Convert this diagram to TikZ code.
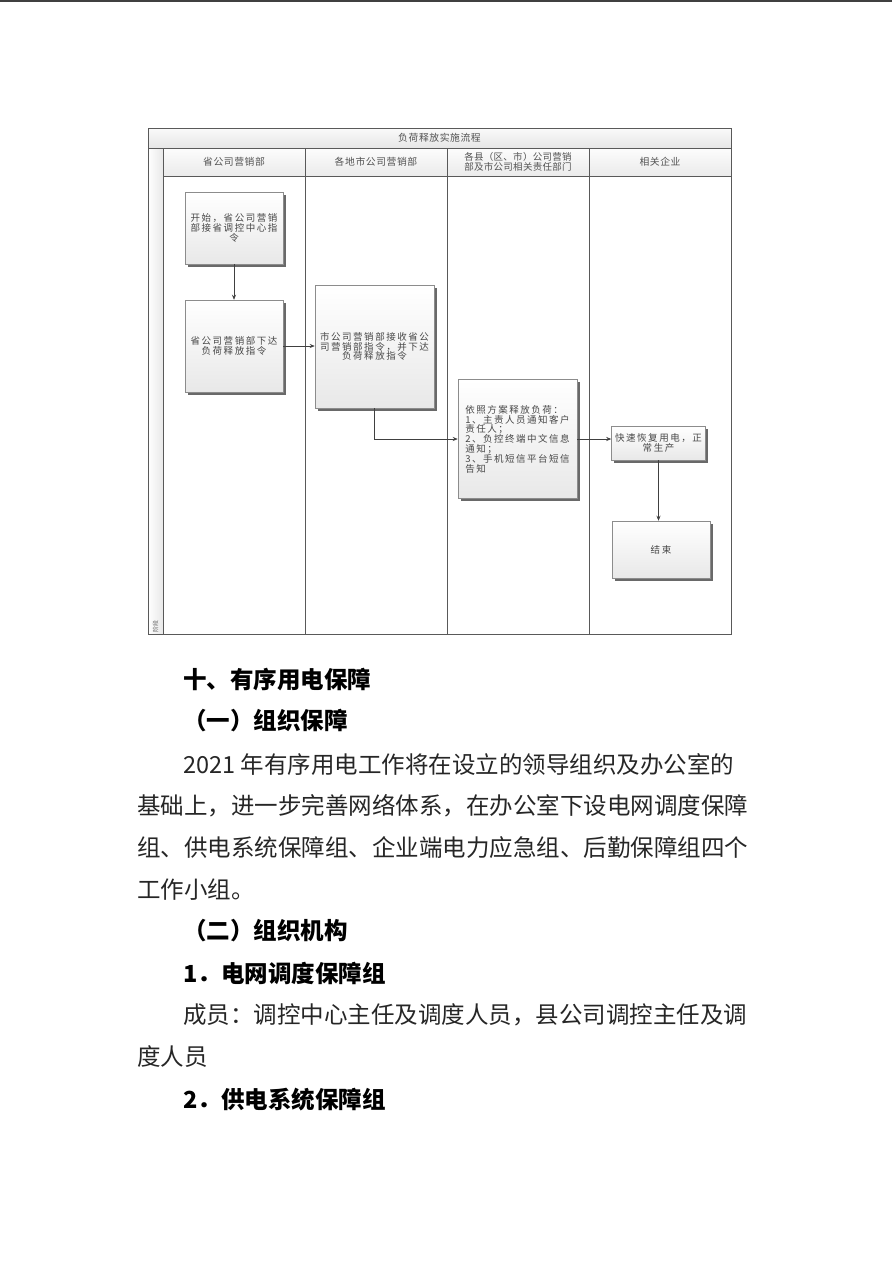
\documentclass[tikz,border=0pt]{standalone}
\usepackage{fontspec}
\setmainfont{Noto Sans CJK SC}
\usetikzlibrary{shadows,arrows.meta}
\newcommand\difont{\fontsize{9.5}{9.8}\selectfont\addfontfeature{LetterSpace=16}}
\newcommand\hdfont{\fontsize{9.8}{11}\selectfont\addfontfeature{LetterSpace=6}}
\newcommand\bodyfnt{\fontsize{23.5}{28}\selectfont}
\newcommand\headfnt{\fontsize{23.5}{28}\selectfont\bfseries}
\begin{document}
\begin{tikzpicture}[x=1pt,y=-1pt,
  lane/.style={draw=black!65, line width=0.8pt},
  fbox/.style={draw=black!45, line width=0.5pt, top color=white, bottom color=black!9,
    drop shadow={shadow xshift=2.5pt, shadow yshift=-2.5pt, fill=black!65, opacity=0.9},
    inner sep=1.5pt, font=\difont, text=black!72, align=center},
  arr/.style={-{Stealth[length=5pt,width=4pt]}, draw=black!75, line width=0.6pt},
  lanehd/.style={font=\hdfont, text=black!68, align=center, inner sep=1pt},
  body/.style={anchor=west, inner sep=0pt, font=\bodyfnt, text=black!85},
  head/.style={anchor=west, inner sep=0pt, font=\headfnt, text=black},
]
\useasboundingbox[fill=white] (0,0) rectangle (892,1262);
% top rule
\draw[line width=2pt, black!75] (0,1) -- (892,1);

% ---------- diagram frame ----------
\shade[top color=black!2, bottom color=black!10] (148,128) rectangle (731,148);
\shade[left color=white, right color=black!9] (148,148) rectangle (163,634);
\shade[top color=black!1, bottom color=black!8] (163,148) rectangle (731,176);
\draw[lane] (148,128) rectangle (731,634);
\draw[lane] (148,148) -- (731,148);
\draw[lane] (163,148) -- (163,634);
\draw[lane] (163,176) -- (731,176);
\foreach \xx in {305,447,589} \draw[lane] (\xx,148) -- (\xx,634);

\node[lanehd] (title) at (439.5,138) {负荷释放实施流程};
\node[lanehd] (h1) at (234,162) {省公司营销部};
\node[lanehd] (h2) at (376,162) {各地市公司营销部};
\node[lanehd, font=\fontsize{9.5}{10.5}\selectfont\addfontfeature{LetterSpace=3}] (h3) at (518,162) {各县（区、市）公司营销\\部及市公司相关责任部门};
\node[lanehd] (h4) at (660,162) {相关企业};
\node[rotate=90, font=\fontsize{6}{6}\selectfont, text=black!60, inner sep=0pt] (stage) at (155.5,626) {阶段};

% ---------- boxes ----------
\node[fbox, minimum width=98pt, minimum height=72pt] (b1) at (234,228) {开始，省公司营销\\部接省调控中心指\\令};
\node[fbox, minimum width=98pt, minimum height=92pt] (b2) at (234,346) {省公司营销部下达\\负荷释放指令};
\node[fbox, minimum width=119pt, minimum height=123pt] (b3) at (374.5,346.5) {市公司营销部接收省公\\司营销部指令，并下达\\负荷释放指令};
\node[fbox, minimum width=119pt, minimum height=119pt, align=left] (b4) at (517.5,439) {依照方案释放负荷：\\1、主责人员通知客户\\责任人；\\2、负控终端中文信息\\通知；\\3、手机短信平台短信\\告知};
\node[fbox, minimum width=94pt, minimum height=34pt] (b5) at (658.5,443) {快速恢复用电，正\\常生产};
\node[fbox, minimum width=98pt, minimum height=57pt] (b6) at (661,549.5) {结束};

% ---------- connectors ----------
\draw[arr] (b1.south) -- (b2.north);
\draw[arr] (b2.east) -- (b2.east -| b3.west);
\draw[arr] (b3.south) |- (b4.west);
\draw[arr] (b4.east) -- (b4.east -| b5.west);
\draw[arr] (b5.south) -- (b5.south |- b6.north);

% ---------- page text ----------
\node[head] (t1) at (183,680) {十、有序用电保障};
\node[head] (t2) at (183,721) {（一）组织保障};
\node[body] (p1) at (183,764) {2021 年有序用电工作将在设立的领导组织及办公室的};
\node[body] (p2) at (137,806) {基础上，进一步完善网络体系，在办公室下设电网调度保障};
\node[body] (p3) at (137,848) {组、供电系统保障组、企业端电力应急组、后勤保障组四个};
\node[body] (p4) at (137,890) {工作小组。};
\node[head] (t3) at (183,931) {（二）组织机构};
\node[head] (t4) at (183,973) {1．电网调度保障组};
\node[body] (p5) at (183,1015) {成员：调控中心主任及调度人员，县公司调控主任及调};
\node[body] (p6) at (137,1057) {度人员};
\node[head] (t5) at (183,1100) {2．供电系统保障组};
\end{tikzpicture}
\end{document}
